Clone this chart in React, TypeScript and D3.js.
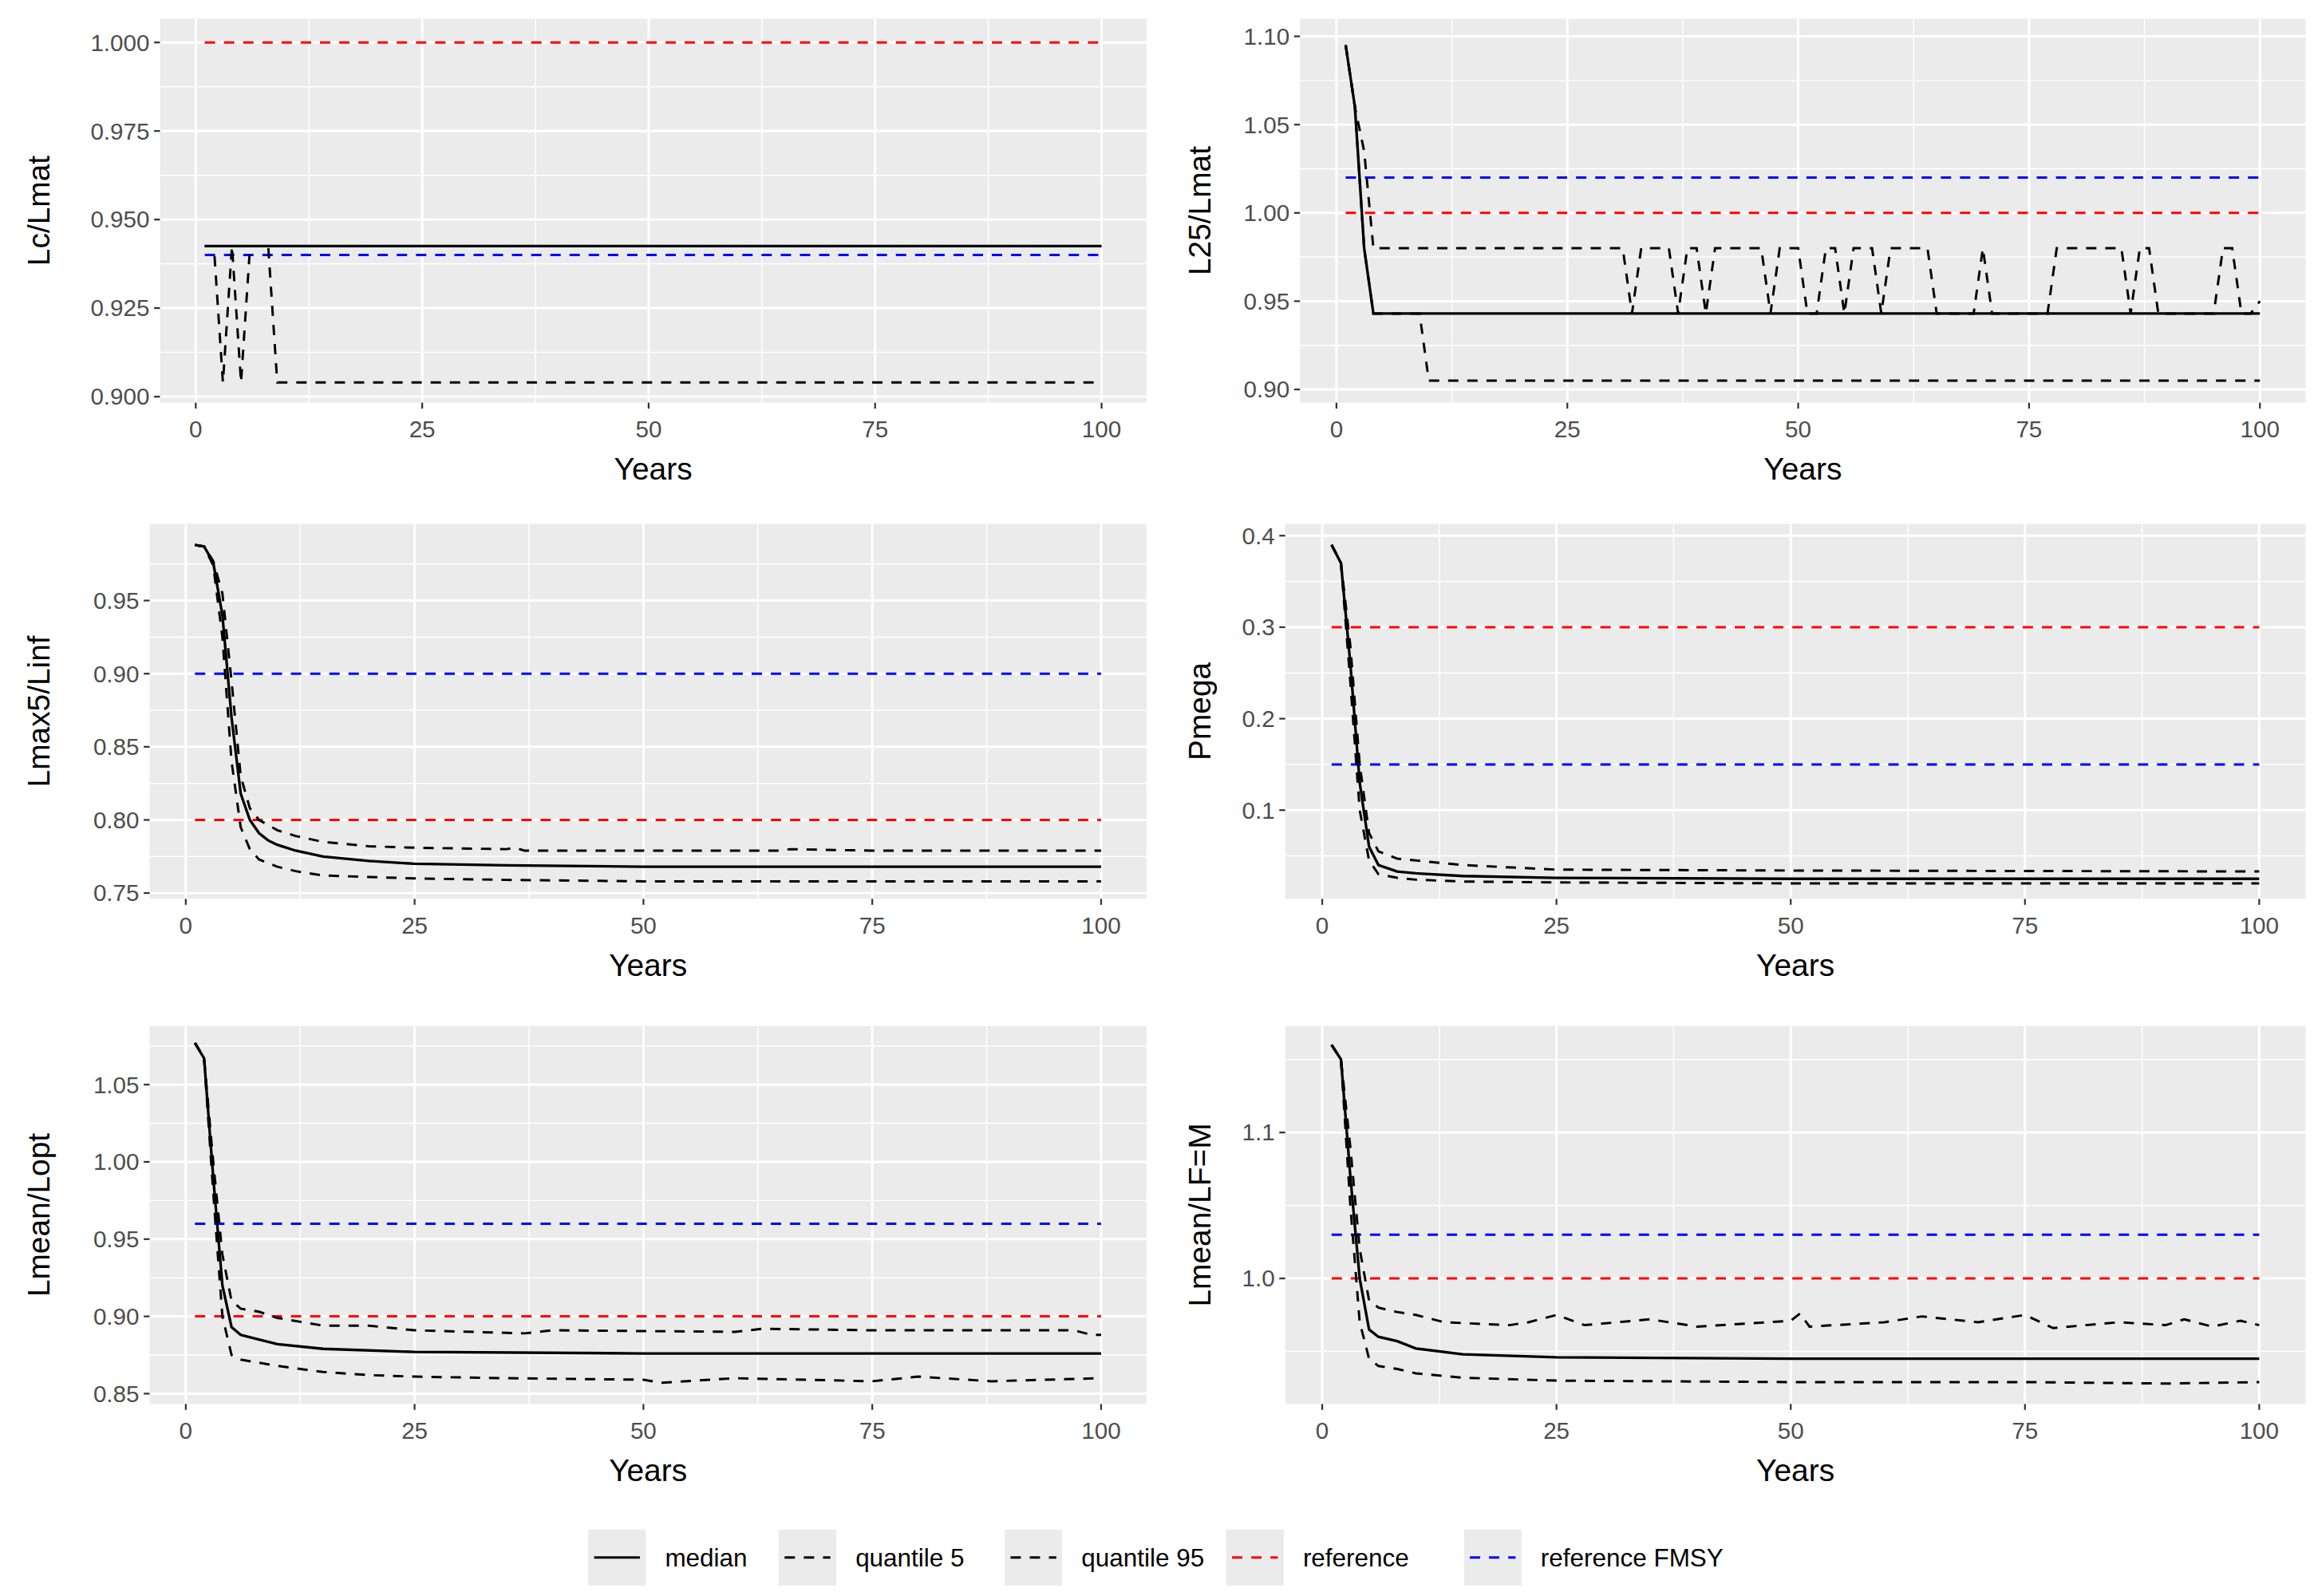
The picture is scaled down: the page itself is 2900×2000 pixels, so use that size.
import * as d3 from 'd3';
import React from 'react';

type Pt = [number, number];

const years = [1, 100];
const xTicks = [0, 25, 50, 75, 100];

// Lc/Lmat
const lcMedian: Pt[] = [[1, 0.9425], [100, 0.9425]];
const lcQ95: Pt[] = [[1, 0.9425], [100, 0.9425]];
const lcQ5: Pt[] = [[1, 0.9425], [2, 0.9425], [3, 0.904], [4, 0.9425], [5, 0.904], [6, 0.9425], [8, 0.9425], [9, 0.904], [100, 0.904]];

// L25/Lmat
const l25Median: Pt[] = [[1, 1.095], [2, 1.06], [3, 0.98], [4, 0.943], [100, 0.943]];
const l25Q5: Pt[] = [[1, 1.095], [2, 1.06], [3, 0.98], [4, 0.943], [9, 0.943], [10, 0.905], [100, 0.905]];
const l25Q95: Pt[] = [[1, 1.095], [2, 1.06], [3, 1.035], [4, 0.98], [31, 0.98], [32, 0.943], [33, 0.98], [36, 0.98], [37, 0.943], [38, 0.98], [39, 0.98], [40, 0.943], [41, 0.98], [46, 0.98], [47, 0.943], [48, 0.98], [50, 0.98], [51, 0.943], [52, 0.943], [53, 0.98], [54, 0.98], [55, 0.943], [56, 0.98], [58, 0.98], [59, 0.943], [60, 0.98], [64, 0.98], [65, 0.943], [66, 0.943], [69, 0.943], [70, 0.98], [71, 0.943], [72, 0.943], [77, 0.943], [78, 0.98], [85, 0.98], [86, 0.943], [87, 0.98], [88, 0.98], [89, 0.943], [95, 0.943], [96, 0.98], [97, 0.98], [98, 0.943], [99, 0.943], [100, 0.95]];

// Lmax5/Linf
const lmaxMedian: Pt[] = [[1, 0.988], [2, 0.987], [3, 0.976], [4, 0.94], [5, 0.87], [6, 0.818], [7, 0.8], [8, 0.791], [9, 0.786], [10, 0.783], [12, 0.779], [15, 0.775], [20, 0.772], [25, 0.77], [35, 0.769], [50, 0.768], [75, 0.768], [100, 0.768]];
const lmaxQ95: Pt[] = [[1, 0.988], [2, 0.987], [3, 0.977], [4, 0.955], [5, 0.895], [6, 0.83], [7, 0.808], [8, 0.8], [10, 0.793], [12, 0.789], [15, 0.785], [20, 0.782], [25, 0.781], [35, 0.78], [36, 0.781], [37, 0.779], [50, 0.779], [65, 0.779], [66, 0.78], [75, 0.779], [100, 0.779]];
const lmaxQ5: Pt[] = [[1, 0.988], [2, 0.987], [3, 0.974], [4, 0.925], [5, 0.84], [6, 0.795], [7, 0.78], [8, 0.773], [10, 0.768], [12, 0.765], [15, 0.762], [20, 0.761], [25, 0.76], [35, 0.759], [50, 0.758], [75, 0.758], [100, 0.758]];

// Pmega
const pmMedian: Pt[] = [[1, 0.39], [2, 0.37], [3, 0.26], [4, 0.13], [5, 0.06], [6, 0.04], [8, 0.033], [10, 0.031], [15, 0.028], [25, 0.026], [50, 0.025], [100, 0.025]];
const pmQ95: Pt[] = [[1, 0.39], [2, 0.37], [3, 0.28], [4, 0.15], [5, 0.075], [6, 0.055], [8, 0.047], [10, 0.045], [15, 0.04], [25, 0.035], [50, 0.034], [100, 0.033]];
const pmQ5: Pt[] = [[1, 0.39], [2, 0.37], [3, 0.24], [4, 0.1], [5, 0.045], [6, 0.03], [8, 0.026], [10, 0.024], [15, 0.022], [25, 0.021], [50, 0.02], [100, 0.02]];

// Lmean/Lopt
const loMedian: Pt[] = [[1, 1.077], [2, 1.067], [3, 0.99], [4, 0.92], [5, 0.893], [6, 0.888], [8, 0.885], [10, 0.882], [15, 0.879], [25, 0.877], [50, 0.876], [100, 0.876]];
const loQ95: Pt[] = [[1, 1.077], [2, 1.067], [3, 1.0], [4, 0.94], [5, 0.91], [6, 0.905], [8, 0.903], [10, 0.899], [15, 0.894], [20, 0.894], [25, 0.891], [37, 0.889], [40, 0.891], [60, 0.89], [63, 0.892], [75, 0.891], [88, 0.891], [97, 0.891], [99, 0.888], [100, 0.888]];
const loQ5: Pt[] = [[1, 1.077], [2, 1.067], [3, 0.98], [4, 0.9], [5, 0.875], [6, 0.872], [8, 0.87], [10, 0.868], [15, 0.864], [20, 0.862], [25, 0.861], [35, 0.86], [50, 0.859], [52, 0.857], [60, 0.86], [75, 0.858], [80, 0.861], [88, 0.858], [100, 0.86]];

// Lmean/LF=M
const lfMedian: Pt[] = [[1, 1.16], [2, 1.15], [3, 1.07], [4, 1.0], [5, 0.965], [6, 0.96], [8, 0.957], [10, 0.952], [15, 0.948], [25, 0.946], [50, 0.945], [100, 0.945]];
const lfQ95: Pt[] = [[1, 1.16], [2, 1.15], [3, 1.09], [4, 1.02], [5, 0.985], [6, 0.98], [8, 0.977], [10, 0.975], [13, 0.97], [20, 0.968], [22, 0.97], [25, 0.975], [28, 0.968], [35, 0.972], [40, 0.967], [50, 0.971], [51, 0.976], [52, 0.967], [60, 0.97], [64, 0.974], [70, 0.97], [75, 0.975], [78, 0.966], [85, 0.97], [90, 0.968], [92, 0.972], [95, 0.967], [98, 0.971], [100, 0.968]];
const lfQ5: Pt[] = [[1, 1.16], [2, 1.15], [3, 1.05], [4, 0.97], [5, 0.945], [6, 0.94], [8, 0.938], [10, 0.935], [15, 0.932], [25, 0.93], [50, 0.929], [75, 0.929], [90, 0.928], [100, 0.929]];

const legendLabels = ['median', 'quantile 5', 'quantile 95', 'reference', 'reference FMSY'];

const panels = [
  { title: 'Lc/Lmat', box: [104, 8, 772, 268], y: [0.8983, 1.0067], ticks: [0.9, 0.925, 0.95, 0.975, 1.0], fmt: '.3f', med: lcMedian, q5: lcQ5, q95: lcQ95, ref: 1.0, fmsy: 0.94, tx: 22 },
  { title: 'L25/Lmat', box: [876, 8, 1557, 268], y: [0.8925, 1.11], ticks: [0.9, 0.95, 1.0, 1.05, 1.1], fmt: '.2f', med: l25Median, q5: l25Q5, q95: l25Q95, ref: 1.0, fmsy: 1.02, tx: 808 },
  { title: 'Lmax5/Linf', box: [97, 350, 772, 604], y: [0.746, 1.0025], ticks: [0.75, 0.8, 0.85, 0.9, 0.95], fmt: '.2f', med: lmaxMedian, q5: lmaxQ5, q95: lmaxQ95, ref: 0.8, fmsy: 0.9, tx: 22 },
  { title: 'Pmega', box: [866, 350, 1557, 604], y: [0.003, 0.413], ticks: [0.1, 0.2, 0.3, 0.4], fmt: '.1f', med: pmMedian, q5: pmQ5, q95: pmQ95, ref: 0.3, fmsy: 0.15, tx: 808 },
  { title: 'Lmean/Lopt', box: [97, 690, 772, 946], y: [0.8433, 1.088], ticks: [0.85, 0.9, 0.95, 1.0, 1.05], fmt: '.2f', med: loMedian, q5: loQ5, q95: loQ95, ref: 0.9, fmsy: 0.96, tx: 22 },
  { title: 'Lmean/LF=M', box: [866, 690, 1557, 946], y: [0.914, 1.173], ticks: [1.0, 1.1], fmt: '.1f', med: lfMedian, q5: lfQ5, q95: lfQ95, ref: 1.0, fmsy: 1.03, tx: 808 },
];

const DASH = '7,6';
const font = 'Liberation Sans, Arial, sans-serif';

const Panel = ({ p }: { p: (typeof panels)[number] }) => {
  const [x0, y0, x1, y1] = p.box;
  const x = d3.scaleLinear().domain([1 - 4.95, 100 + 4.95]).range([x0, x1]);
  const y = d3.scaleLinear().domain(p.y).range([y1, y0]);
  const line = d3.line<Pt>().x((d) => x(d[0])).y((d) => y(d[1]));
  const fmt = d3.format(p.fmt);
  const step = p.ticks[1] - p.ticks[0];
  const minorY = [p.ticks[0] - step / 2, ...p.ticks.map((t) => t + step / 2)].filter((v) => v > p.y[0] && v < p.y[1]);
  const minorX = [-12.5, 12.5, 37.5, 62.5, 87.5].filter((v) => x(v) > x0);
  const refLine = (v: number): Pt[] => years.map((yr) => [yr, v]);
  return (
    <g>
      <rect x={x0} y={y0} width={x1 - x0} height={y1 - y0} fill="#EBEBEB" />
      {minorY.map((v) => <line key={'my' + v} x1={x0} x2={x1} y1={y(v)} y2={y(v)} stroke="#fff" strokeWidth={0.8} />)}
      {minorX.map((v) => <line key={'mx' + v} x1={x(v)} x2={x(v)} y1={y0} y2={y1} stroke="#fff" strokeWidth={0.8} />)}
      {p.ticks.map((v) => <line key={'gy' + v} x1={x0} x2={x1} y1={y(v)} y2={y(v)} stroke="#fff" strokeWidth={1.6} />)}
      {xTicks.map((v) => <line key={'gx' + v} x1={x(v)} x2={x(v)} y1={y0} y2={y1} stroke="#fff" strokeWidth={1.6} />)}
      <path d={line(refLine(p.ref)) ?? ''} fill="none" stroke="#FF0000" strokeWidth={1.6} strokeDasharray={DASH} />
      <path d={line(refLine(p.fmsy)) ?? ''} fill="none" stroke="#0000FF" strokeWidth={1.6} strokeDasharray={DASH} />
      <path d={line(p.q5) ?? ''} fill="none" stroke="#000" strokeWidth={1.6} strokeDasharray={DASH} />
      <path d={line(p.q95) ?? ''} fill="none" stroke="#000" strokeWidth={1.6} strokeDasharray={DASH} />
      <path d={line(p.med) ?? ''} fill="none" stroke="#000" strokeWidth={1.8} />
      {p.ticks.map((v) => (
        <g key={'ty' + v}>
          <line x1={x0 - 4} x2={x0} y1={y(v)} y2={y(v)} stroke="#333" strokeWidth={1.2} />
          <text x={x0 - 7} y={y(v)} dy="0.35em" textAnchor="end" fontSize={16} fill="#4D4D4D" fontFamily={font}>{fmt(v)}</text>
        </g>
      ))}
      {xTicks.map((v) => (
        <g key={'tx' + v}>
          <line x1={x(v)} x2={x(v)} y1={y1} y2={y1 + 4} stroke="#333" strokeWidth={1.2} />
          <text x={x(v)} y={y1 + 18} dy="0.35em" textAnchor="middle" fontSize={16} fill="#4D4D4D" fontFamily={font}>{v}</text>
        </g>
      ))}
      <text x={(x0 + x1) / 2} y={y1 + 52} textAnchor="middle" fontSize={21} fill="#000" fontFamily={font}>Years</text>
      <text transform={`translate(${p.tx},${(y0 + y1) / 2}) rotate(-90)`} textAnchor="middle" dy="0.35em" fontSize={21} fill="#000" fontFamily={font}>{p.title}</text>
    </g>
  );
};

const legendX = [394, 523, 676, 826, 987];
const legendColor = ['#000', '#000', '#000', '#FF0000', '#0000FF'];

const App = () => (
  <svg width={2900} height={2000} viewBox="0 0 1567 1080" style={{ display: 'block', background: '#fff' }}>
    <rect width={1567} height={1080} fill="#fff" />
    {panels.map((p) => <Panel key={p.title} p={p} />)}
    {legendLabels.map((l, i) => (
      <g key={l}>
        <rect x={legendX[i]} y={1031} width={39} height={38} fill="#EBEBEB" />
        <line x1={legendX[i] + 4} x2={legendX[i] + 35} y1={1050} y2={1050} stroke={legendColor[i]} strokeWidth={1.6} strokeDasharray={i === 0 ? undefined : DASH} />
        <text x={legendX[i] + 52} y={1050} dy="0.35em" fontSize={17} fill="#000" fontFamily={font}>{l}</text>
      </g>
    ))}
  </svg>
);

export default App;
